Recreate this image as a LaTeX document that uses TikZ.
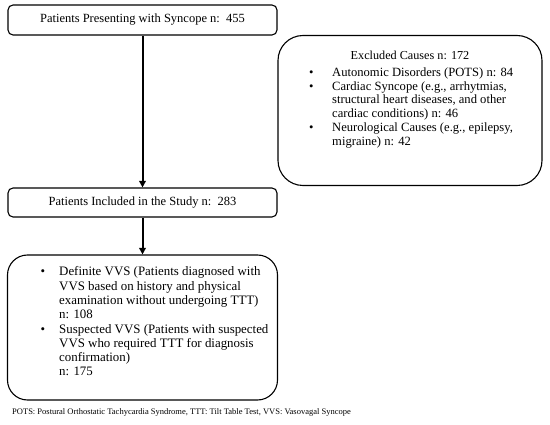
\documentclass[tikz,border=0pt]{standalone}
\usepackage{fontspec}
\setmainfont{Liberation Serif}
\usetikzlibrary{arrows.meta}
\begin{document}
\begin{tikzpicture}[x=1pt,y=-1pt,
  smallbox/.style={draw=black,line width=1.1pt,rounded corners=5pt,minimum width=269pt,minimum height=30pt,inner sep=0pt,font=\fontsize{12.5}{14}\selectfont},
  bigbox/.style={draw=black,line width=1.1pt,inner sep=0pt},
  bodytext/.style={inner sep=0pt,align=left,anchor=north west},
  flow/.style={line width=2pt,-{Triangle[length=6.5pt,width=6.5pt]}},
  note/.style={inner sep=0pt,anchor=west,font=\fontsize{8.5}{10}\selectfont}]
\useasboundingbox (0,0) rectangle (550,425);
\node[smallbox] (present) at (142.5,20) {Patients Presenting with Syncope n:\ \ 455};
\node[smallbox,minimum height=29pt] (included) at (142.5,202.5) {Patients Included in the Study\ n:\ \ 283};
\node[bigbox,rounded corners=20pt,minimum width=270pt,minimum height=145pt] (groups) at (142.5,327.5) {};
\node[bigbox,rounded corners=25pt,minimum width=264pt,minimum height=150pt] (excluded) at (410,110.5) {};
\node[inner sep=0pt,font=\fontsize{12.2}{14}\selectfont] (extitle) at (410,55) {Excluded Causes n: 172};
\node[bodytext,font=\fontsize{12.6}{13.7}\selectfont] (exlist) at (309,67.6) {%
\makebox[23pt][l]{\textbullet}Autonomic Disorders (POTS) n: 84\\
\makebox[23pt][l]{\textbullet}Cardiac Syncope (e.g., arrhytmias,\\
\hspace*{23pt}structural heart diseases, and other\\
\hspace*{23pt}cardiac conditions) n: 46\\
\makebox[23pt][l]{\textbullet}Neurological Causes (e.g., epilepsy,\\
\hspace*{23pt}migraine) n: 42};
\node[bodytext,font=\fontsize{12.9}{14.3}\selectfont] (grouplist) at (40.5,266.6) {%
\makebox[18.5pt][l]{\textbullet}Definite VVS (Patients diagnosed with\\
\hspace*{18.5pt}VVS based on history and physical\\
\hspace*{18.5pt}examination without undergoing TTT)\\
\hspace*{18.5pt}n: 108\\
\makebox[18.5pt][l]{\textbullet}Suspected VVS (Patients with suspected\\
\hspace*{18.5pt}VVS who required TTT for diagnosis\\
\hspace*{18.5pt}confirmation)\\
\hspace*{18.5pt}n: 175};
\draw[flow] (present) -- (included);
\draw[flow] (included) -- (groups);
\node[note] (footnote) at (12,412) {POTS: Postural Orthostatic Tachycardia Syndrome, TTT: Tilt Table Test, VVS: Vasovagal Syncope};
\end{tikzpicture}
\end{document}
